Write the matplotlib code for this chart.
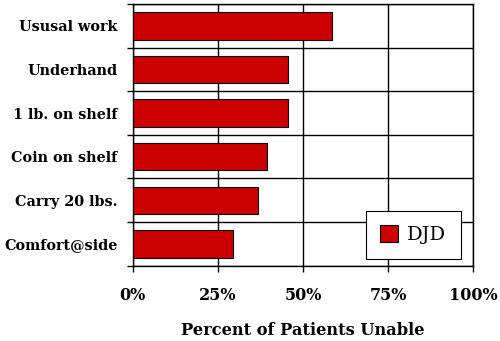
import matplotlib
matplotlib.use("Agg")
import matplotlib.pyplot as plt
import numpy as np

categories = ["Ususal work", "Underhand", "1 lb. on shelf", "Coin on shelf", "Carry 20 lbs.", "Comfort@side"]
values = [58.5, 45.6, 45.6, 39.3, 36.8, 29.3]
xticks = [0, 25, 50, 75, 100]
xticklabels = ["0%", "25%", "50%", "75%", "100%"]

plt.rcParams['font.family'] = ['DejaVu Serif']

fig = plt.figure(figsize=(5, 3.41), dpi=100)
ax = fig.add_axes([0.2654, 0.2208, 0.6814, 0.7673])

n = len(categories)
y = np.arange(n)[::-1]
ax.barh(y, values, height=0.63, color='#CC0000', edgecolor='black', linewidth=0.8, label='DJD', zorder=3)

ax.set_xlim(0, 100)
ax.set_ylim(-0.5, n - 0.5)
ax.set_xticks(xticks)
ax.set_xticklabels(xticklabels, fontsize=11.5, fontweight='bold')
ax.tick_params(axis='x', length=4, width=1, pad=11, color='black')

ax.set_yticks(np.arange(n + 1) - 0.5)
ax.set_yticklabels([])
ax.set_yticks(y, minor=True)
ax.set_yticklabels(categories, minor=True, fontsize=10.4, fontweight='bold')
ax.tick_params(axis='y', which='major', length=4, width=1, color='black')
ax.tick_params(axis='y', which='minor', length=0, pad=11)

ax.grid(True, which='major', color='black', linewidth=1, zorder=0)
for s in ax.spines.values():
    s.set_color('black')
    s.set_linewidth(1)

ax.set_xlabel("Percent of Patients Unable", fontsize=11.7, fontweight='bold', labelpad=13)

leg = ax.legend(loc='lower right', bbox_to_anchor=(0.963, 0.026), borderaxespad=0, fontsize=14,
                frameon=True, fancybox=False, edgecolor='black', framealpha=1,
                handlelength=0.93, handleheight=0.93, borderpad=0.75, handletextpad=0.45)
leg.get_frame().set_linewidth(0.8)

fig.savefig("out.png", dpi=100)
